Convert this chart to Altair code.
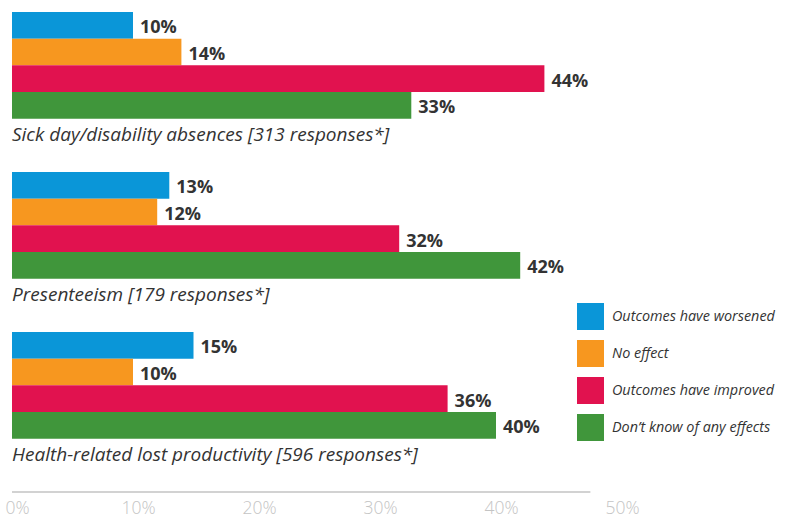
import altair as alt
import pandas as pd

groups = [
    "Sick day/disability absences [313 responses*]",
    "Presenteeism [179 responses*]",
    "Health-related lost productivity [596 responses*]",
]
series = [
    "Outcomes have worsened",
    "No effect",
    "Outcomes have improved",
    "Don\u2019t know of any effects",
]
colors = ["#0a96d8", "#f7971f", "#e1124f", "#40963b"]
values = [
    [10, 14, 44, 33],
    [13, 12, 32, 42],
    [15, 10, 36, 40],
]
tick_values = [0, 10, 20, 30, 40, 50]
axis_extent = [0, 47.8]

SLOTS_PER_GROUP = 6
rows = []
for gi, g in enumerate(groups):
    for si, s in enumerate(series):
        rows.append({"group": g, "series": s, "value": values[gi][si],
                     "slot": gi * SLOTS_PER_GROUP + si,
                     "label": f"{values[gi][si]}%"})
df = pd.DataFrame(rows)
lab = pd.DataFrame({"slot": [gi * SLOTS_PER_GROUP + 4 for gi in range(len(groups))],
                    "text": groups, "x": [0] * len(groups)})
axis_df = pd.DataFrame({"x": [axis_extent[0]], "x2": [axis_extent[1]]})

slot_domain = list(range(len(groups) * SLOTS_PER_GROUP))
yscale = alt.Scale(domain=slot_domain, paddingInner=0, paddingOuter=0)
xscale = alt.Scale(domain=[0, 50], nice=False)

FONT = "Open Sans"

bars = alt.Chart(df).mark_bar().encode(
    x=alt.X("value:Q", scale=xscale,
            axis=alt.Axis(values=tick_values, labelExpr="datum.value + '%'",
                          domain=False, ticks=False, grid=False, title=None,
                          labelFont=FONT, labelFontWeight=300, labelFontSize=17.5,
                          labelColor="#c4c4c4", labelPadding=7, labelOffset=5,
                          labelFlush=False)),
    y=alt.Y("slot:O", scale=yscale, axis=None),
    color=alt.Color("series:N", sort=series,
                    scale=alt.Scale(domain=series, range=colors),
                    legend=alt.Legend(title=None, orient="none", legendX=565, legendY=291,
                                      symbolType="square", symbolSize=729,
                                      symbolStrokeWidth=0, symbolOpacity=1,
                                      labelFont=FONT, labelFontStyle="italic",
                                      labelFontSize=14.4, labelColor="#333333",
                                      labelOffset=8, labelLimit=220,
                                      rowPadding=10, padding=0)),
)

txt = alt.Chart(df).mark_text(align="left", baseline="middle", dx=7, dy=3,
                              font=FONT, fontWeight="bold", fontSize=18,
                              color="#333333").encode(
    x=alt.X("value:Q", scale=xscale),
    y=alt.Y("slot:O", scale=yscale),
    text="label:N",
)

glab = alt.Chart(lab).mark_text(align="left", baseline="middle", dy=3,
                                font=FONT, fontStyle="italic", fontSize=19,
                                color="#333333").encode(
    x=alt.X("x:Q", scale=xscale),
    y=alt.Y("slot:O", scale=yscale),
    text="text:N",
)

rule = alt.Chart(axis_df).mark_rule(color="#a6a6a6", strokeWidth=1.2).encode(
    x=alt.X("x:Q", scale=xscale),
    x2="x2:Q",
    y=alt.value("height"),
)

chart = alt.layer(bars, txt, glab, rule).properties(
    width=605, height=480,
    autosize=alt.AutoSizeParams(type="none"),
    padding={"left": 12, "top": 12, "right": 171, "bottom": 26},
).configure_view(stroke=None)

chart.save("out.html", embed_options={"renderer": "svg", "actions": False})
